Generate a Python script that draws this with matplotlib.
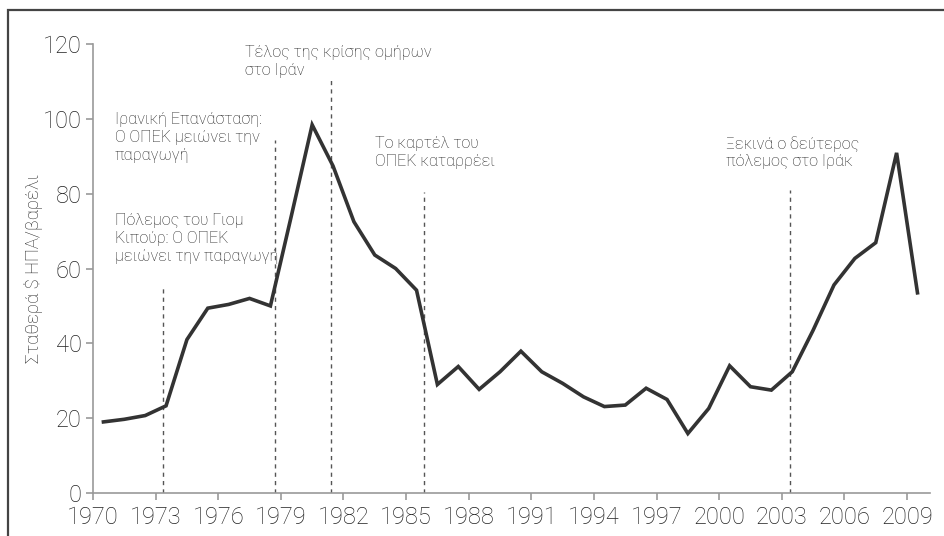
import matplotlib
matplotlib.use("Agg")
import matplotlib.pyplot as plt
from matplotlib.patches import Rectangle
import numpy as np

plt.rcParams['font.family'] = ['Roboto', 'DejaVu Sans']

# Data (constant US$ per barrel), one value per year
years = list(range(1970, 2010))
prices = [19.0, 19.7, 20.7, 23.3, 41.0, 49.4, 50.4, 52.0, 50.0, 74.0,
          98.4, 87.4, 72.5, 63.6, 60.0, 54.2, 29.0, 33.8, 27.7, 32.4,
          37.9, 32.4, 29.3, 25.7, 23.1, 23.5, 28.0, 25.0, 15.9, 22.6,
          34.0, 28.4, 27.5, 32.4, 43.5, 55.6, 62.7, 66.9, 90.9, 53.5]

tick_years = [1970, 1973, 1976, 1979, 1982, 1985, 1988, 1991, 1994, 1997,
              2000, 2003, 2006, 2009]
y_ticks = [0, 20, 40, 60, 80, 100, 120]

# Event markers: position, top of dashed line
event_x = [1973.35, 1978.7, 1981.4, 1985.85, 2003.4]
event_top = [55.6, 94.3, 110.9, 80.4, 81.0]

# Annotations: x, y (centre), text
ann_x = [1971.05, 1971.05, 1977.3, 1983.5, 2000.35]
ann_y = [68.0, 95.0, 115.3, 91.0, 91.0]
ann_text = ["Πόλεμος του Γιομ\nΚιπούρ: Ο ΟΠΕΚ\nμειώνει την παραγωγή",
            "Ιρανική Επανάσταση:\nΟ ΟΠΕΚ μειώνει την\nπαραγωγή",
            "Τέλος της κρίσης ομήρων\nστο Ιράν",
            "Το καρτέλ του\nΟΠΕΚ καταρρέει",
            "Ξεκινά ο δεύτερος\nπόλεμος στο Ιράκ"]

fig = plt.figure(figsize=(9.44, 5.36), dpi=100)
ax = fig.add_axes([93/944, 1-493/536, (930-93)/944, (493-44)/536])

x_pos = np.array(years) + 0.5
ax.plot(x_pos, prices, color='#333333', lw=2.6, solid_joinstyle='miter', zorder=3)

for ex, et in zip(event_x, event_top):
    ax.plot([ex, ex], [0, et], color='#555555', lw=1.0, ls=(0, (3, 3)), zorder=2)

for tx, ty, t in zip(ann_x, ann_y, ann_text):
    ax.text(tx, ty, t, ha='left', va='center', fontsize=11.6, fontweight='light',
            color='#222222', linespacing=1.22, zorder=4)

ax.set_xlim(1970, 2010.1)
ax.set_ylim(0, 120)
ax.set_xticks(tick_years)
ax.set_xticklabels([str(t) for t in tick_years])
ax.set_yticks(y_ticks)
ax.set_yticklabels([str(t) for t in y_ticks])

for side in ['top', 'right']:
    ax.spines[side].set_visible(False)
for side in ['left', 'bottom']:
    ax.spines[side].set_color('#999999')
    ax.spines[side].set_linewidth(1.2)

ax.tick_params(axis='both', direction='out', color='#999999', width=1.2,
               labelsize=17, labelcolor='#222222')
ax.tick_params(axis='y', length=5, pad=3)
ax.tick_params(axis='x', length=5, pad=4)
for lab in ax.get_xticklabels() + ax.get_yticklabels():
    lab.set_fontweight('light')

ax.set_ylabel("Σταθερά $ ΗΠΑ/βαρέλι", fontsize=13.2, fontweight='light',
              color='#222222', labelpad=0)

# Outer frame
fig.patches.append(Rectangle((8/944, -0.01), 1.0, 1 - 10/536 + 0.01,
                             transform=fig.transFigure, fill=False,
                             edgecolor='#444444', lw=1.6, zorder=10))

fig.savefig("out.png", dpi=100, facecolor='white')
